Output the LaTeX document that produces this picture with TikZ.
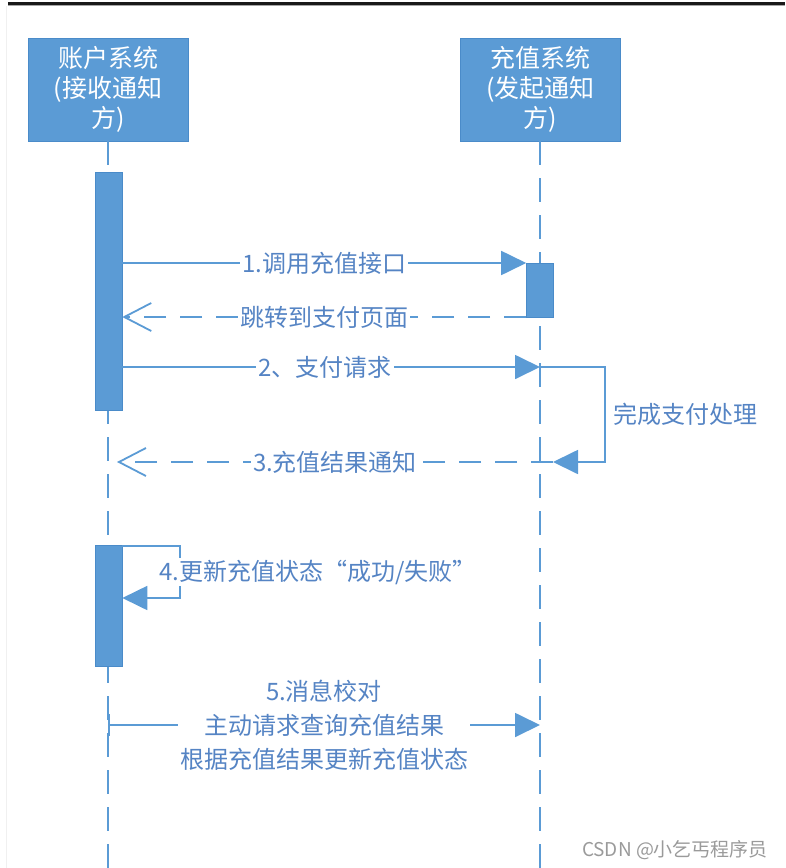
\documentclass[tikz,border=0pt]{standalone}
\usepackage{fontspec}
\setmainfont{Noto Sans CJK SC}
\usetikzlibrary{arrows.meta, positioning}
\definecolor{umlblue}{HTML}{5B9BD5}
\definecolor{umledge}{HTML}{4A8BC9}
\definecolor{lbltext}{HTML}{5584C4}
\definecolor{marktext}{HTML}{9A9A9A}

\begin{document}
\begin{tikzpicture}[x=1pt, y=-1pt,
  actor/.style={rectangle, draw=umledge, fill=umlblue, text=white, line width=0.8pt,
                minimum width=160pt, minimum height=103pt, inner sep=0pt, align=center,
                font=\fontsize{25}{30}\selectfont},
  bar/.style={rectangle, draw=umledge, fill=umlblue, line width=0.6pt,
              minimum width=27pt, inner sep=0pt},
  lifeline/.style={draw=umlblue, line width=2.6pt, dash pattern=on 24pt off 13pt},
  arr/.style={draw=umlblue, line width=1.8pt, -{Triangle[length=25pt, width=24pt]}},
  backarr/.style={draw=umlblue, line width=1.8pt, dash pattern=on 22pt off 14pt,
                  -{Straight Barb[length=27pt, width=28pt, line width=1.8pt]}},
  lbl/.style={fill=white, text=lbltext, inner sep=2pt, font=\fontsize{24}{34}\selectfont},
]
\useasboundingbox (0,0) rectangle (785,868);

%% FRAME
\draw[black!90, line width=3pt] (8,3.5) -- (785,3.5);
\draw[black!35, line width=1pt] (8,5.5) -- (785,5.5);
\draw[black!6, line width=1pt] (6.5,6) -- (6.5,868);

%% ACTORS
\node[actor] (acct)     at (108,89.5)   {账户系统\\(接收通知\\方)};
\node[actor] (recharge) at (540.5,89.5) {充值系统\\(发起通知\\方)};

%% LIFELINES
\coordinate (acctend)     at (acct.south |- 0,868);
\coordinate (rechargeend) at (540,868);
\draw[lifeline] (acct.south) -- (acctend);
\draw[lifeline] (540,141) -- (rechargeend);

%% ACTIVATIONS
\node[bar, minimum height=238pt] (act1) at (108.5,291)   {};
\node[bar, minimum height=54pt]  (act2) at (540,290)     {};
\node[bar, minimum height=121pt] (act3) at (108.5,605.5) {};

%% MESSAGE POINTS
\coordinate (m1a) at (act1.east |- 0,263);
\coordinate (m1b) at (act2.west |- 0,263);
\coordinate (r1a) at (act2.west |- 0,317);
\coordinate (r1b) at (act1.east |- 0,317);
\coordinate (m2a) at (act1.east |- 0,367);
\coordinate (m2b) at (540,367);
\coordinate (m3a) at (553,462);
\coordinate (m3b) at (117,462);
\coordinate (m4a) at (act3.east |- 0,546);
\coordinate (m4b) at (act3.east |- 0,598);
\coordinate (m5a) at (108,725);
\coordinate (m5b) at (540,725);

%% ARROWS
\draw[arr] (m1a) -- node[lbl]{1.调用充值接口} (m1b);
\draw[backarr] (r1a) -- node[lbl]{跳转到支付页面} (r1b);
\draw[arr] (m2a) -- node[lbl, pos=0.485]{2、支付请求} (m2b);
\draw[arr] (m2b) -- ++(65,0) |- node[pos=0.25, right=6pt, lbl, fill=none]{完成支付处理} (m3a);
\draw[backarr] (m3a) -- node[lbl]{3.充值结果通知} (m3b);
\draw[arr] (m4a) -- ++(58,0) |- node[pos=0.25, anchor=west, xshift=-24pt, lbl]{4.更新充值状态“成功/失败”} (m4b);
\draw[arr, {Bar[width=22pt]}-{Triangle[length=25pt, width=24pt]}] (m5a) --
  node[lbl, align=center]{5.消息校对\\主动请求查询充值结果\\根据充值结果更新充值状态} (m5b);

%% WATERMARK
\node[text=marktext, font=\fontsize{19}{22}\selectfont] (mark) at (675,850) {CSDN @小乞丐程序员};
\end{tikzpicture}
\end{document}
